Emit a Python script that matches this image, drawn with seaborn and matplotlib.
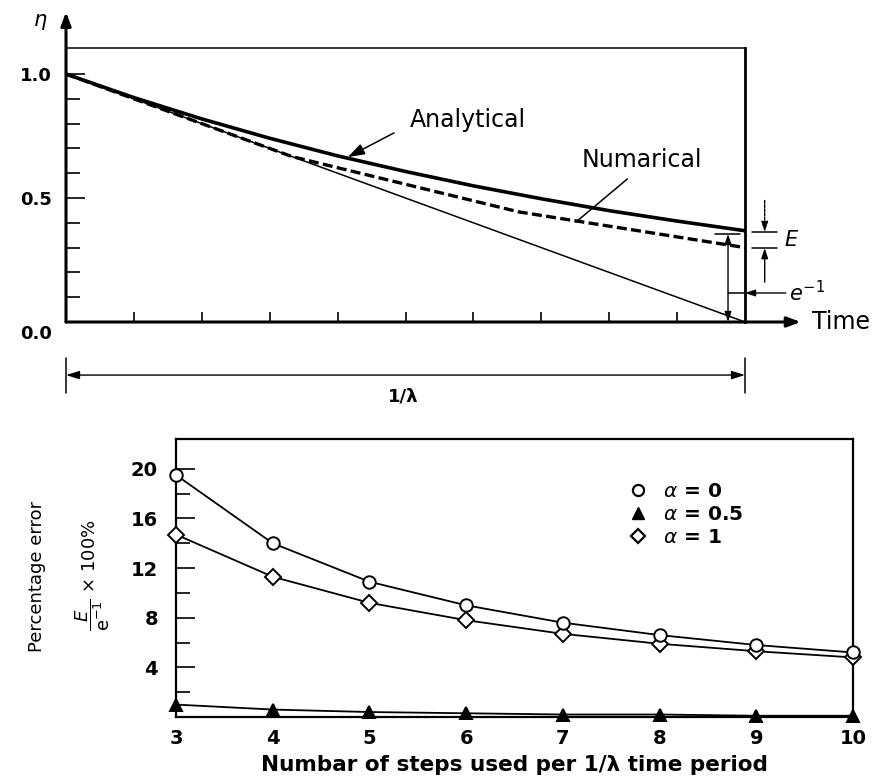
"""Analytical vs numerical decay and percentage error per time-step count."""
import matplotlib.pyplot as plt
import pandas as pd
import seaborn as sns
from matplotlib.lines import Line2D

sns.set_style("white")
plt.rcParams["font.family"] = ["DejaVu Sans"]
plt.rcParams["mathtext.fontset"] = "dejavusans"
for key in ["text.color", "axes.labelcolor", "xtick.color", "ytick.color"]:
    plt.rcParams[key] = "black"

# top panel: eta vs time (time in units of 1/lambda)
t_analytical = [0.0, 0.1, 0.2, 0.3, 0.4, 0.5, 0.6, 0.7, 0.8, 0.9, 1.0]
eta_analytical = [1.0, 0.905, 0.819, 0.741, 0.670, 0.607, 0.549, 0.497, 0.449, 0.407, 0.368]
t_numerical = [0.0, 0.333, 0.667, 1.0]
eta_numerical = [1.0, 0.667, 0.444, 0.30]
t_tangent = [0.0, 1.0]
eta_tangent = [1.0, 0.0]

# bottom panel: percentage error vs number of steps
steps = [3, 4, 5, 6, 7, 8, 9, 10]
err_alpha0 = [19.5, 14.0, 10.9, 9.0, 7.6, 6.6, 5.8, 5.2]
err_alpha05 = [1.0, 0.6, 0.4, 0.3, 0.2, 0.2, 0.1, 0.1]
err_alpha1 = [14.7, 11.3, 9.2, 7.8, 6.7, 5.9, 5.3, 4.8]
legend_labels = [r"$\alpha$ = 0", r"$\alpha$ = 0.5", r"$\alpha$ = 1"]

fig = plt.figure(figsize=(8.8, 7.78), dpi=100)

# ---------------- top panel ----------------
ax = fig.add_axes([66 / 880, 1 - 322 / 778, 679 / 880, 274 / 778])
sns.lineplot(x=t_tangent, y=eta_tangent, ax=ax, color="black", linewidth=1.1)
sns.lineplot(x=t_numerical, y=eta_numerical, ax=ax, color="black", linewidth=2.4,
             linestyle=(0, (3, 1.3)))
sns.lineplot(x=t_analytical, y=eta_analytical, ax=ax, color="black", linewidth=2.6)
ax.set_xlim(0, 1)
ax.set_ylim(0, 1.105)

for side in ["left", "bottom"]:
    ax.spines[side].set_visible(False)
ax.spines["top"].set_linewidth(1.1)
ax.spines["right"].set_linewidth(2.0)
for side in ["top", "right"]:
    ax.spines[side].set_color("black")

ax.set_yticks([0.5, 1.0])
ax.set_yticklabels(["0.5", "1.0"])
ax.set_yticks([0.1, 0.2, 0.3, 0.4, 0.6, 0.7, 0.8, 0.9], minor=True)
ax.set_xticks([0.1, 0.2, 0.3, 0.4, 0.5, 0.6, 0.7, 0.8, 0.9])
ax.tick_params(axis="y", which="major", direction="in", length=14, width=1.2,
               pad=10, labelsize=13, left=True)
ax.tick_params(axis="y", which="minor", direction="in", length=10, width=1.2, left=True)
ax.tick_params(axis="x", which="major", direction="in", length=7, width=1.2,
               labelbottom=False, bottom=True)
for lab in ax.get_yticklabels():
    lab.set_fontweight("bold")
ax.text(-0.02, -0.048, "0.0", ha="right", va="center", fontsize=13, fontweight="bold")

arrow_kw = dict(arrowstyle="-|>,head_length=0.8,head_width=0.3", color="black")
ax.annotate("", xy=(0, 1.25), xytext=(0, 0), annotation_clip=False,
            arrowprops=dict(arrow_kw, linewidth=2.2, shrinkA=0, shrinkB=0))
ax.annotate("", xy=(1.082, 0), xytext=(0, 0), annotation_clip=False,
            arrowprops=dict(arrow_kw, linewidth=2.2, shrinkA=0, shrinkB=0))
ax.text(-0.038, 1.21, r"$\eta$", ha="center", va="center", fontsize=15)
ax.text(1.099, 0, "Time", ha="left", va="center", fontsize=17)

ax.annotate("Analytical", xy=(0.415, 0.665), xytext=(0.506, 0.815),
            fontsize=17, ha="left", va="center",
            arrowprops=dict(arrowstyle="-|>,head_length=0.6,head_width=0.2",
                            color="black", linewidth=1.1, shrinkA=10, shrinkB=0,
                            relpos=(0, 0.3)))
ax.annotate("Numarical", xy=(0.751, 0.403), xytext=(0.759, 0.653),
            fontsize=17, ha="left", va="center",
            arrowprops=dict(arrowstyle="-", color="black", linewidth=1.1,
                            shrinkA=4, shrinkB=0, relpos=(0.45, 0)))

# dimension marks at the right end
thin = dict(color="black", linewidth=1.1, clip_on=False)
ax.annotate("", xy=(0.975, 0.355), xytext=(0.975, 0.0), annotation_clip=False,
            arrowprops=dict(arrowstyle="<|-|>,head_length=0.6,head_width=0.2",
                            color="black", linewidth=1.0, shrinkA=0, shrinkB=0))
ax.plot([0.956, 0.993], [0.355, 0.355], **thin)
ax.plot([1.010, 1.047], [0.363, 0.363], **thin)
ax.plot([1.010, 1.047], [0.298, 0.298], **thin)
ax.annotate("", xy=(1.029, 0.363), xytext=(1.029, 0.49), annotation_clip=False,
            arrowprops=dict(arrowstyle="-|>,head_length=0.6,head_width=0.2",
                            color="black", linewidth=1.0, shrinkA=0, shrinkB=0,
                            linestyle=(0, (2, 1))))
ax.annotate("", xy=(1.029, 0.298), xytext=(1.029, 0.161), annotation_clip=False,
            arrowprops=dict(arrowstyle="-|>,head_length=0.6,head_width=0.2",
                            color="black", linewidth=1.0, shrinkA=0, shrinkB=0))
ax.text(1.058, 0.33, r"$E$", ha="left", va="center", fontsize=15)
ax.plot([0.975, 1.0], [0.117, 0.117], **thin)
ax.annotate("", xy=(1.0, 0.117), xytext=(1.06, 0.117), annotation_clip=False,
            arrowprops=dict(arrowstyle="-|>,head_length=0.6,head_width=0.2",
                            color="black", linewidth=1.0, shrinkA=0, shrinkB=0))
ax.text(1.065, 0.117, r"$e^{-1}$", ha="left", va="center", fontsize=15)

# 1/lambda dimension line
ax.plot([0, 0], [-0.145, -0.286], **thin)
ax.plot([1, 1], [-0.145, -0.286], **thin)
ax.annotate("", xy=(1, -0.214), xytext=(0, -0.214), annotation_clip=False,
            arrowprops=dict(arrowstyle="<|-|>,head_length=0.8,head_width=0.25",
                            color="black", linewidth=1.0, shrinkA=0, shrinkB=0))
ax.text(0.496, -0.302, "1/λ", ha="center", va="center", fontsize=13, fontweight="bold")

# ---------------- bottom panel ----------------
bx = fig.add_axes([176 / 880, 1 - 717 / 778, 677 / 880, 278 / 778])
err = pd.DataFrame({"steps": steps, "a0": err_alpha0, "a05": err_alpha05, "a1": err_alpha1})
line_kw = dict(color="black", linewidth=1.3, markersize=9, markeredgecolor="black",
               markeredgewidth=1.4, clip_on=False)
sns.lineplot(data=err, x="steps", y="a05", ax=bx, marker="^", markerfacecolor="black", **line_kw)
sns.lineplot(data=err, x="steps", y="a1", ax=bx, marker="D", markerfacecolor="white",
             **dict(line_kw, markersize=8.5))
sns.lineplot(data=err, x="steps", y="a0", ax=bx, marker="o", markerfacecolor="white", **line_kw)
for ln in bx.lines:
    ln.set_zorder(5)

bx.set_xlim(3, 10)
bx.set_ylim(0, 22.4)
for side in bx.spines.values():
    side.set_linewidth(1.6)
    side.set_color("black")
bx.set_xticks(steps)
bx.set_yticks([4, 8, 12, 16, 20])
bx.set_yticks([2, 6, 10, 14, 18], minor=True)
bx.tick_params(axis="y", which="major", direction="in", length=14, width=1.2,
               pad=13, labelsize=14, left=True)
bx.tick_params(axis="y", which="minor", direction="in", length=10, width=1.2, left=True)
bx.tick_params(axis="x", length=0, pad=9, labelsize=14)
for lab in bx.get_xticklabels() + bx.get_yticklabels():
    lab.set_fontweight("bold")
bx.set_ylabel("")
bx.set_xlabel("Numbar of steps used per 1/λ time period", fontsize=15.5,
              fontweight="bold", labelpad=5)

fig.text(37 / 880, 1 - 576 / 778, "Percentage error", rotation=90,
         ha="center", va="center", fontsize=13)
fig.text(93 / 880, 1 - 575 / 778, r"$\dfrac{E}{\mathrm{e}^{-1}}$ × 100%", rotation=90,
         ha="center", va="center", fontsize=13)

handles = [
    Line2D([], [], linestyle="none", marker="o", markersize=8, markerfacecolor="white",
           markeredgecolor="black", markeredgewidth=1.6),
    Line2D([], [], linestyle="none", marker="^", markersize=9, markerfacecolor="black",
           markeredgecolor="black"),
    Line2D([], [], linestyle="none", marker="D", markersize=7.5, markerfacecolor="white",
           markeredgecolor="black", markeredgewidth=1.6),
]
bx.legend(handles, legend_labels, loc="upper left", bbox_to_anchor=(0.668, 0.845),
          frameon=False, handlelength=1.0, handletextpad=0.75, labelspacing=0.2,
          borderpad=0, borderaxespad=0, prop={"size": 14.5, "weight": "bold"})

fig.savefig("out.png", dpi=100)
